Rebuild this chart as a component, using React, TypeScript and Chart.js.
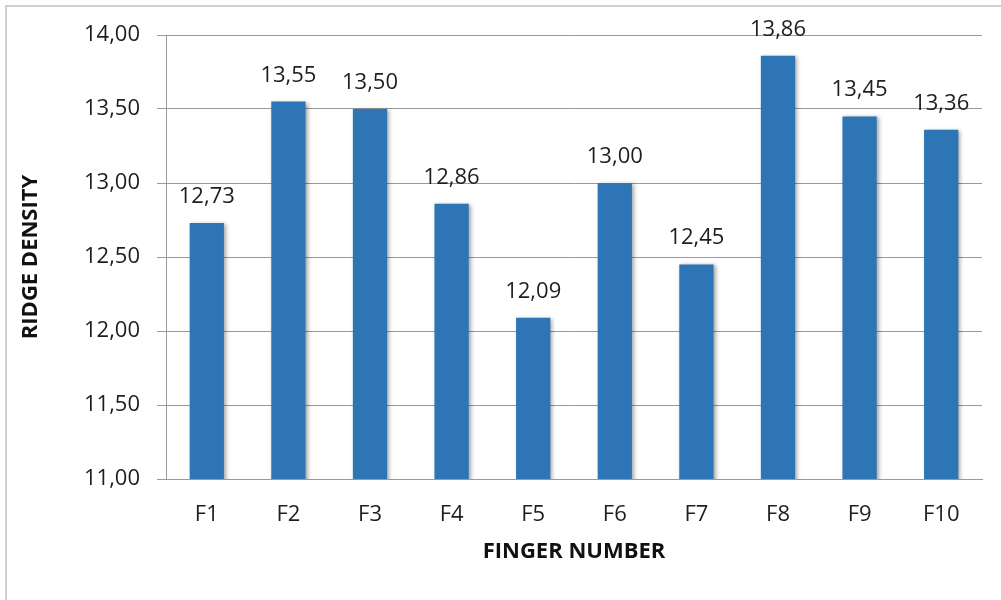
import React, { useEffect, useRef } from "react";
import { Chart, registerables } from "chart.js";

Chart.register(...registerables);

const categories: string[] = ["F1", "F2", "F3", "F4", "F5", "F6", "F7", "F8", "F9", "F10"];
const ridgeDensity: number[] = [12.73, 13.55, 13.5, 12.86, 12.09, 13.0, 12.45, 13.86, 13.45, 13.36];
const yMin = 11;
const yMax = 14;
const yStep = 0.5;
const xTitle = "FINGER NUMBER";
const yTitle = "RIDGE DENSITY";

const FONT = "'Open Sans', 'Liberation Sans', sans-serif";
const fmt = (v: number) => v.toFixed(2).replace(".", ",");

export default function App() {
  const ref = useRef<HTMLCanvasElement | null>(null);

  useEffect(() => {
    if (!ref.current) return;
    const labelPlugin = {
      id: "barLabelsShadow",
      beforeDatasetsDraw(chart: any) {
        const ctx = chart.ctx;
        ctx.save();
        ctx.shadowColor = "rgba(0,0,0,0.35)";
        ctx.shadowBlur = 4;
        ctx.shadowOffsetX = 2;
        ctx.shadowOffsetY = 1;
      },
      afterDatasetsDraw(chart: any) {
        const ctx = chart.ctx;
        ctx.restore();
        ctx.save();
        ctx.font = `22px ${FONT}`;
        ctx.fillStyle = "#1e1e1e";
        ctx.textAlign = "center";
        ctx.textBaseline = "alphabetic";
        const meta = chart.getDatasetMeta(0);
        meta.data.forEach((el: any, i: number) => {
          ctx.fillText(fmt(ridgeDensity[i]), el.x, el.y - 20);
        });
        ctx.restore();
      },
    };

    const chart = new Chart(ref.current, {
      type: "bar",
      data: {
        labels: categories,
        datasets: [
          {
            data: ridgeDensity,
            backgroundColor: "#2E75B6",
            borderWidth: 0,
            categoryPercentage: 1,
            barPercentage: 0.42,
          },
        ],
      },
      options: {
        responsive: false,
        animation: false,
        layout: { padding: { top: 35, right: 19, left: 0, bottom: 0 } },
        plugins: { legend: { display: false }, tooltip: { enabled: false } },
        scales: {
          x: {
            grid: { display: false, drawTicks: false },
            border: { display: true, color: "#9a9a9a", width: 1 },
            ticks: { color: "#1e1e1e", font: { family: FONT, size: 22 }, padding: 23 },
            title: {
              display: true,
              text: xTitle,
              color: "#111",
              font: { family: FONT, size: 22, weight: "bold" },
              padding: { top: 0, bottom: 35 },
            },
            afterFit: (scale: any) => {
              scale.height = 121;
            },
          },
          y: {
            min: yMin,
            max: yMax,
            grid: { color: "#9a9a9a", lineWidth: 1, tickLength: 9, drawTicks: true },
            border: { display: true, color: "#9a9a9a", width: 1 },
            ticks: {
              stepSize: yStep,
              color: "#1e1e1e",
              font: { family: FONT, size: 22 },
              padding: 17,
              callback: (v: any) => fmt(Number(v)),
            },
            title: {
              display: true,
              text: yTitle,
              color: "#111",
              font: { family: FONT, size: 22, weight: "bold" },
              padding: { top: 18, bottom: 0 },
            },
            afterFit: (scale: any) => {
              scale.width = 166;
            },
          },
        },
      } as any,
      plugins: [labelPlugin],
    });
    return () => chart.destroy();
  }, []);

  return (
    <div style={{ position: "fixed", left: 0, top: 0, width: 1001, height: 600, background: "#fff", overflow: "hidden" }}>
      <canvas ref={ref} width={1001} height={600} style={{ display: "block" }} />
      <div
        style={{
          position: "absolute",
          left: 5,
          top: 5,
          width: 1100,
          height: 700,
          borderTop: "2px solid #cfcfcf",
          borderLeft: "2px solid #cfcfcf",
          pointerEvents: "none",
        }}
      />
    </div>
  );
}
